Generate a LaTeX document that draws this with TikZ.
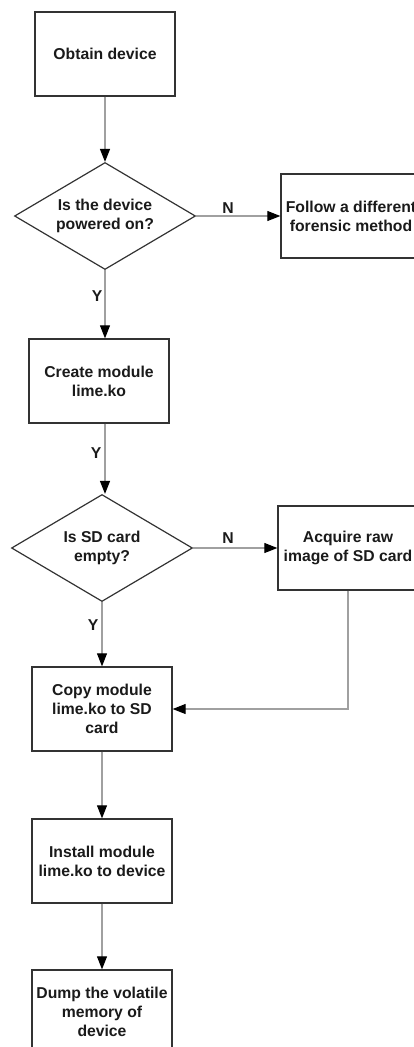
\documentclass[tikz,border=0pt]{standalone}
\usepackage{fontspec}
\setmainfont{Liberation Sans}
\usetikzlibrary{shapes.geometric,arrows.meta}

\definecolor{boxline}{HTML}{333333}
\definecolor{flowline}{HTML}{A0A0A0}
\definecolor{labeltext}{HTML}{1A1A1A}

\tikzset{
  stepbox/.style={draw=boxline, line width=1pt, minimum width=105pt, minimum height=63pt,
    inner sep=0pt, align=center, text=labeltext, font=\bfseries\fontsize{11.8}{14.1}\selectfont},
  choice/.style={diamond, draw=boxline, line width=0.9pt, minimum width=135.75pt, minimum height=80.25pt,
    inner sep=0pt, shape aspect=1.7, align=center, text=labeltext, font=\bfseries\fontsize{11.8}{14.6}\selectfont},
  flow/.style={draw=flowline, line width=0.8pt, -{Triangle[length=9.75pt,width=7.5pt,color=black]}},
  yesno/.style={text=labeltext, inner sep=0pt, font=\bfseries\fontsize{11.8}{14.1}\selectfont}
}

\begin{document}
\begin{tikzpicture}[x=0.75pt, y=-0.75pt]
\clip (0,0) rectangle (414,1047);

% steps and decisions
\node[stepbox] (obtain) at (105,54) {Obtain device};
\node[choice] (power) at (105,216) {Is the device\\powered on?};
\node[stepbox] (other) at (351,216) {Follow a different\\forensic method};
\node[stepbox] (create) at (99,381) {Create module\\lime.ko};
\node[choice] (sdempty) at (102,548) {Is SD card\\empty?};
\node[stepbox] (acquire) at (348,548) {Acquire raw\\image of SD card};
\node[stepbox] (copy) at (102,709) {Copy module\\lime.ko to SD\\card};
\node[stepbox] (install) at (102,861) {Install module\\lime.ko to device};
\node[stepbox] (dump) at (102,1012) {Dump the volatile\\memory of\\device};

% connectors
\draw[flow] (obtain) -- (power);
\draw[flow] (power) -- (other);
\draw[flow] (power.south) -- (power.south |- create.north);
\draw[flow] (create.south -| power.south) -- (sdempty.north -| power.south);
\draw[flow] (sdempty) -- (acquire);
\draw[flow] (sdempty) -- (copy);
\draw[flow] (acquire.south) |- (copy.east);
\draw[flow] (copy) -- (install);
\draw[flow] (install) -- (dump);

% answers
\node[yesno] (pownote) at (228,208) {N};
\node[yesno] (powyes) at (97,296) {Y};
\node[yesno] (crtyes) at (96,453) {Y};
\node[yesno] (sdnote) at (228,538) {N};
\node[yesno] (sdyes) at (93,625) {Y};
\end{tikzpicture}
\end{document}
